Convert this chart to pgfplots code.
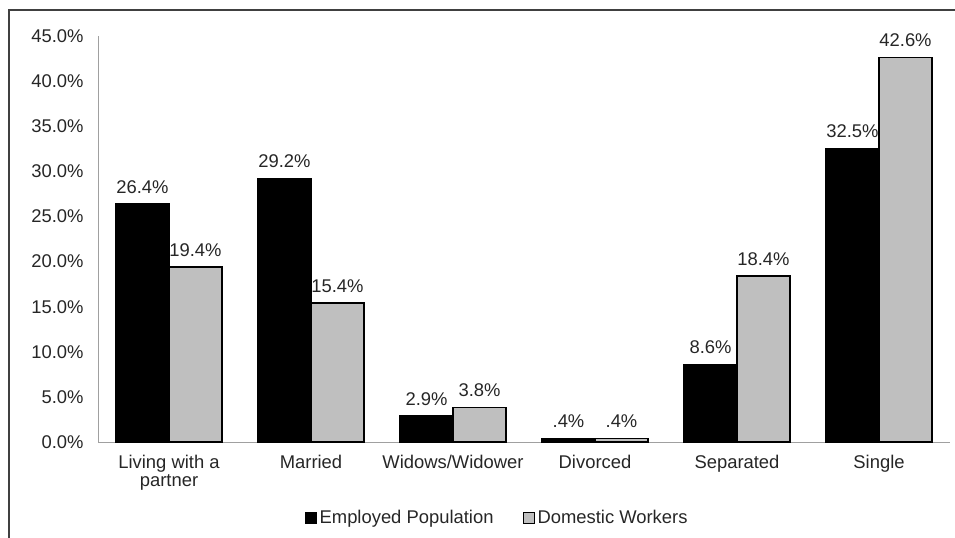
\documentclass[border=0pt]{standalone}
\usepackage{pgfplots}
\pgfplotsset{compat=1.18}
\usepackage{fontspec}
\setmainfont{Liberation Sans}
\definecolor{txt}{HTML}{262626}
\definecolor{barblack}{HTML}{000000}
\definecolor{bargray}{HTML}{BFBFBF}
\definecolor{axisgray}{HTML}{A0A0A0}
\definecolor{framegray}{HTML}{404040}
\newcommand{\chartfont}{\fontsize{18.4bp}{17.5bp}\selectfont}

% Marital status shares (percent)
\pgfplotstableread{
x  employed domestic
0  26.4     19.4
1  29.2     15.4
2  2.9      3.8
3  0.4      0.4
4  8.6      18.4
5  32.5     42.6
}\maritaldata

\begin{document}
\begin{tikzpicture}
\useasboundingbox (0,0) rectangle (955bp,538bp);
\draw[framegray, line width=1.2bp] (9bp,0) -- (9bp,528bp) -- (955bp,528bp);
\begin{axis}[
  at={(98bp,96bp)}, anchor=south west,
  scale only axis,
  width=852bp, height=406bp,
  ybar=0pt, bar width=53bp,
  xmin=-0.5, xmax=5.5,
  ymin=0, ymax=45,
  ytick={0,5,...,45},
  xtick={0,1,2,3,4,5},
  xticklabels={{Living with a\\partner},Married,Widows/Widower,Divorced,Separated,Single},
  axis x line=bottom, axis y line=left,
  axis line style={axisgray, line width=1bp, -},
  major tick length=0pt,
  /pgf/number format/assume math mode=true,
  yticklabel={\pgfmathprintnumber[fixed,fixed zerofill,precision=1]{\tick}\%},
  yticklabel style={font=\chartfont, text=txt, xshift=-11bp},
  xticklabel style={font=\chartfont, text=txt, align=center, yshift=-10bp},
  nodes near coords={\pgfmathprintnumber[fixed,fixed zerofill,precision=1,skip 0.]{\pgfplotspointmeta}\%},
  every node near coord/.append style={font=\chartfont, text=txt, anchor=south, inner sep=0pt, yshift=10bp},
  legend style={
    at={(axis description cs:0.469,-0.187)}, anchor=center,
    draw=none, fill=none, font=\chartfont, text=txt,
    legend columns=2,
    /tikz/every even column/.append style={column sep=26bp},
    nodes={inner xsep=3bp, inner ysep=0pt},
  },
  legend image code/.code={\draw[#1, line width=1bp] (0bp,-5.5bp) rectangle (11bp,5.5bp);},
]
\addplot[fill=barblack, draw=black, line width=1.2bp] table[x=x, y=employed] {\maritaldata};
\addplot[fill=bargray, draw=black, line width=1.2bp] table[x=x, y=domestic] {\maritaldata};
\legend{Employed Population, Domestic Workers}
\end{axis}
\end{tikzpicture}
\end{document}
